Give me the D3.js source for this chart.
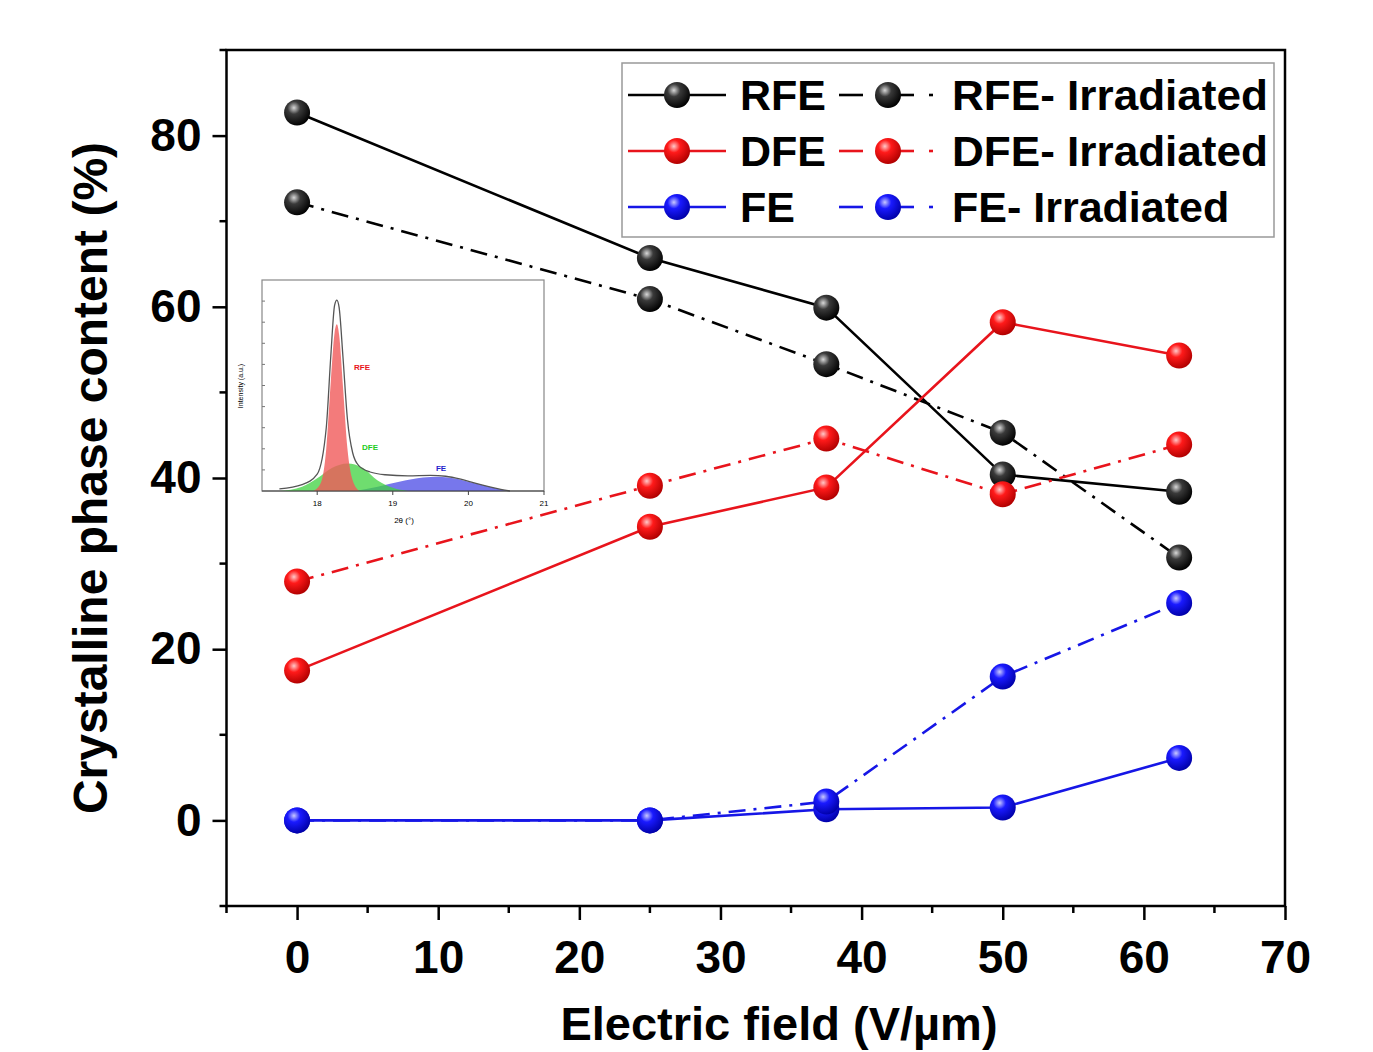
<!DOCTYPE html>
<html><head><meta charset="utf-8">
<script src="https://cdn.jsdelivr.net/npm/d3@7"></script>
<style>body{margin:0;background:#fff;} svg{display:block;} text{font-family:"Liberation Sans",Arial,sans-serif;}</style>
</head><body>
<svg id="chart" width="1373" height="1052"></svg>
<script>
// ---- main data ----
const fieldValues = [0, 25, 37.5, 50, 62.5];
const rfe     = [82.7, 65.7, 59.9, 40.4, 38.4];
const rfeIrr  = [72.2, 60.9, 53.3, 45.3, 30.7];
const dfe     = [17.5, 34.3, 38.9, 58.2, 54.3];
const dfeIrr  = [27.9, 39.1, 44.6, 38.1, 43.9];
const fe      = [0, 0, 1.3, 1.5, 7.3];
const feIrr   = [0, 0, 2.2, 16.8, 25.4];
const xTicks = [0, 10, 20, 30, 40, 50, 60, 70];
const yTicks = [0, 20, 40, 60, 80];
const seriesNames = ["RFE", "RFE- Irradiated", "DFE", "DFE- Irradiated", "FE", "FE- Irradiated"];

// ---- inset data (2theta, intensity) ----
const insetRFE = [[17.95,0],[18.05,0.04],[18.12,0.2],[18.18,0.52],[18.23,0.75],[18.26,0.79],[18.29,0.74],[18.34,0.5],[18.40,0.2],[18.47,0.05],[18.56,0]];
const insetDFE = [[17.5,0],[17.8,0.02],[18.0,0.06],[18.2,0.11],[18.4,0.13],[18.6,0.11],[18.8,0.05],[19.0,0.015],[19.2,0]];
const insetFE  = [[18.5,0],[18.8,0.02],[19.1,0.045],[19.4,0.064],[19.6,0.068],[19.8,0.06],[20.1,0.035],[20.4,0.01],[20.55,0]];
const insetTotal = [[17.5,0.01],[17.8,0.03],[18.0,0.08],[18.12,0.3],[18.18,0.64],[18.23,0.88],[18.26,0.905],[18.29,0.87],[18.34,0.64],[18.40,0.34],[18.47,0.18],[18.55,0.12],[18.7,0.09],[18.9,0.077],[19.2,0.072],[19.5,0.074],[19.7,0.07],[19.9,0.056],[20.1,0.036],[20.4,0.01],[20.55,0.0]];
const insetTicks = [18, 19, 20, 21];

const svg = d3.select("#chart");
const x = d3.scaleLinear().domain([-5, 70]).range([226.5, 1285]);
const y = d3.scaleLinear().domain([-10, 90]).range([906, 50]);

// gradients
const defs = svg.append("defs");
const grads = {
  black: ["#d8d8d8", "#3a3a3a", "#000000"],
  red: ["#ffc8c8", "#ff1a1a", "#b00000"],
  blue: ["#c8c8ff", "#1a1aff", "#0000a8"]
};
Object.entries(grads).forEach(([k, c]) => {
  const g = defs.append("radialGradient").attr("id", "g-" + k).attr("cx", "38%").attr("cy", "32%").attr("r", "70%");
  g.append("stop").attr("offset", "0%").attr("stop-color", c[0]);
  g.append("stop").attr("offset", "35%").attr("stop-color", c[1]);
  g.append("stop").attr("offset", "100%").attr("stop-color", c[2]);
});

const colors = { black: "#000000", red: "#e8141c", blue: "#1616e6" };
const dashDot = "17,8,3,8";
const series = [
  { name: seriesNames[0], vals: rfe, col: "black", dash: null },
  { name: seriesNames[1], vals: rfeIrr, col: "black", dash: dashDot },
  { name: seriesNames[2], vals: dfe, col: "red", dash: null },
  { name: seriesNames[3], vals: dfeIrr, col: "red", dash: dashDot },
  { name: seriesNames[4], vals: fe, col: "blue", dash: null },
  { name: seriesNames[5], vals: feIrr, col: "blue", dash: dashDot }
];

// ---- inset ----
const ix = d3.scaleLinear().domain([17.27, 21]).range([262, 544]);
const iy = d3.scaleLinear().domain([0, 1]).range([491, 280]);
const ig = svg.append("g");
ig.append("rect").attr("x", 262).attr("y", 280).attr("width", 282).attr("height", 211)
  .attr("fill", "#fff").attr("stroke", "#888").attr("stroke-width", 1.2);
const iarea = d3.area().x(d => ix(d[0])).y0(iy(0)).y1(d => iy(d[1])).curve(d3.curveMonotoneX);
ig.append("path").datum(insetFE).attr("d", iarea).attr("fill", "#4a4ae6").attr("fill-opacity", 0.75);
ig.append("path").datum(insetDFE).attr("d", iarea).attr("fill", "#3fd23f").attr("fill-opacity", 0.75);
ig.append("path").datum(insetRFE).attr("d", iarea).attr("fill", "#f05a5a").attr("fill-opacity", 0.8);
ig.append("path").datum(insetTotal).attr("d", d3.line().x(d => ix(d[0])).y(d => iy(d[1])).curve(d3.curveMonotoneX))
  .attr("fill", "none").attr("stroke", "#555").attr("stroke-width", 1.3);
ig.append("line").attr("x1", 262).attr("x2", 544).attr("y1", 491).attr("y2", 491).attr("stroke", "#444").attr("stroke-width", 1.2);
insetTicks.forEach(t => {
  ig.append("line").attr("x1", ix(t)).attr("x2", ix(t)).attr("y1", 491).attr("y2", 495).attr("stroke", "#444");
  ig.append("text").attr("x", ix(t)).attr("y", 506).attr("text-anchor", "middle")
    .attr("font-size", 8).attr("font-family", "Liberation Serif, serif").text(t);
});
[0.1, 0.2, 0.3, 0.4, 0.5, 0.6, 0.7, 0.8, 0.9].forEach(t => {
  ig.append("line").attr("x1", 262).attr("x2", 265).attr("y1", iy(t)).attr("y2", iy(t)).attr("stroke", "#777");
});
ig.append("text").attr("x", 404).attr("y", 523).attr("text-anchor", "middle").attr("font-size", 8)
  .attr("font-family", "Liberation Serif, serif").text("2θ (°)");
ig.append("text").attr("transform", "translate(243,386) rotate(-90)").attr("text-anchor", "middle").attr("font-size", 7)
  .attr("font-family", "Liberation Serif, serif").text("Intensity (a.u.)");
ig.append("text").attr("x", 362).attr("y", 370).attr("text-anchor", "middle").attr("font-size", 8).attr("font-weight", "bold")
  .attr("fill", "#e8141c").attr("font-family", "Liberation Serif, serif").text("RFE");
ig.append("text").attr("x", 370).attr("y", 450).attr("text-anchor", "middle").attr("font-size", 8).attr("font-weight", "bold")
  .attr("fill", "#22cc22").attr("font-family", "Liberation Serif, serif").text("DFE");
ig.append("text").attr("x", 441).attr("y", 471).attr("text-anchor", "middle").attr("font-size", 8).attr("font-weight", "bold")
  .attr("fill", "#2222cc").attr("font-family", "Liberation Serif, serif").text("FE");

// ---- frame ----
svg.append("rect").attr("x", x(-5)).attr("y", y(90)).attr("width", x(70) - x(-5)).attr("height", y(-10) - y(90))
  .attr("fill", "none").attr("stroke", "#000").attr("stroke-width", 2.5);

// axes
const xAxis = d3.axisBottom(x).tickValues(xTicks).tickSize(14).tickPadding(20).tickFormat(d3.format("d"));
const gx = svg.append("g").attr("transform", `translate(0,${y(-10)})`).call(xAxis);
gx.select(".domain").remove();
gx.selectAll(".tick line").attr("stroke-width", 2.5);
gx.selectAll("text").attr("font-size", 46).attr("font-weight", "bold").attr("fill", "#000");
const xMinor = d3.range(-5, 70, 10);
svg.append("g").selectAll("line").data(xMinor).join("line")
  .attr("x1", d => x(d)).attr("x2", d => x(d)).attr("y1", y(-10)).attr("y2", y(-10) + 7)
  .attr("stroke", "#000").attr("stroke-width", 2.5);

const yAxis = d3.axisLeft(y).tickValues(yTicks).tickSize(14).tickPadding(11);
const gy = svg.append("g").attr("transform", `translate(${x(-5)},0)`).call(yAxis);
gy.select(".domain").remove();
gy.selectAll(".tick line").attr("stroke-width", 2.5);
gy.selectAll("text").attr("font-size", 46).attr("font-weight", "bold").attr("fill", "#000");
const yMinor = [-10, 10, 30, 50, 70, 90];
svg.append("g").selectAll("line").data(yMinor).join("line")
  .attr("x1", x(-5)).attr("x2", x(-5) - 7).attr("y1", d => y(d)).attr("y2", d => y(d))
  .attr("stroke", "#000").attr("stroke-width", 2.5);

// titles
svg.append("text").attr("x", 779).attr("y", 1040).attr("text-anchor", "middle")
  .attr("font-size", 47).attr("font-weight", "bold").text("Electric field (V/µm)");
svg.append("text").attr("transform", "translate(107,478) rotate(-90)").attr("text-anchor", "middle")
  .attr("font-size", 48).attr("font-weight", "bold").text("Crystalline phase content (%)");

// ---- lines ----
const line = d3.line().x(d => x(d[0])).y(d => y(d[1]));
series.forEach(s => {
  const pts = fieldValues.map((v, i) => [v, s.vals[i]]);
  svg.append("path").datum(pts).attr("d", line).attr("fill", "none")
    .attr("stroke", colors[s.col]).attr("stroke-width", 2.6)
    .attr("stroke-dasharray", s.dash);
});
series.forEach(s => {
  const pts = fieldValues.map((v, i) => [v, s.vals[i]]);
  svg.append("g").selectAll("circle").data(pts).join("circle")
    .attr("cx", d => x(d[0])).attr("cy", d => y(d[1])).attr("r", 13)
    .attr("fill", `url(#g-${s.col})`);
});

// ---- legend ----
const lg = svg.append("g");
lg.append("rect").attr("x", 622).attr("y", 63).attr("width", 652).attr("height", 174)
  .attr("fill", "#fff").attr("stroke", "#999").attr("stroke-width", 1.5);
const rowsY = [95, 151, 207];
series.forEach((s, i) => {
  const row = Math.floor(i / 2), col = i % 2;
  const cy = rowsY[row];
  if (col === 0) {
    lg.append("line").attr("x1", 628).attr("x2", 726).attr("y1", cy).attr("y2", cy)
      .attr("stroke", colors[s.col]).attr("stroke-width", 2.6);
    lg.append("circle").attr("cx", 677).attr("cy", cy).attr("r", 13).attr("fill", `url(#g-${s.col})`);
    lg.append("text").attr("x", 740).attr("y", cy + 15).attr("font-size", 43).attr("font-weight", "bold").text(s.name);
  } else {
    lg.append("line").attr("x1", 839).attr("x2", 863).attr("y1", cy).attr("y2", cy)
      .attr("stroke", colors[s.col]).attr("stroke-width", 2.6);
    lg.append("line").attr("x1", 888).attr("x2", 914).attr("y1", cy).attr("y2", cy)
      .attr("stroke", colors[s.col]).attr("stroke-width", 2.6);
    lg.append("line").attr("x1", 929).attr("x2", 933).attr("y1", cy).attr("y2", cy)
      .attr("stroke", colors[s.col]).attr("stroke-width", 2.6);
    lg.append("circle").attr("cx", 888).attr("cy", cy).attr("r", 13).attr("fill", `url(#g-${s.col})`);
    lg.append("text").attr("x", 952).attr("y", cy + 15).attr("font-size", 43).attr("font-weight", "bold").attr("textLength", 316).attr("lengthAdjust", "spacingAndGlyphs").text(s.name === "FE- Irradiated" ? s.name : s.name);
  }
});
// keep FE- Irradiated natural width
lg.selectAll("text").filter(function(){ return d3.select(this).text() === "FE- Irradiated"; }).attr("textLength", null).attr("lengthAdjust", null);
</script>
</body></html>
